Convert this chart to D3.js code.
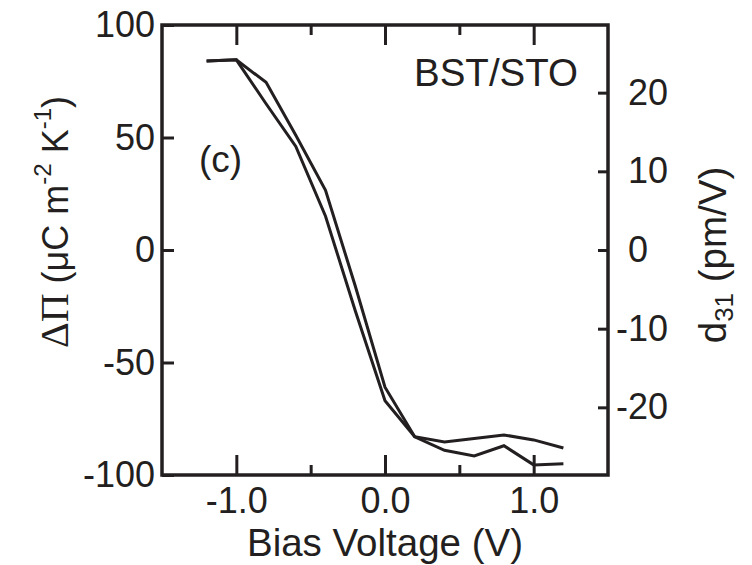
<!DOCTYPE html>
<html>
<head>
<meta charset="utf-8">
<script src="https://cdnjs.cloudflare.com/ajax/libs/d3/7.8.5/d3.min.js"></script>
<style>
  body { margin: 0; background: #fff; }
  text { font-family: "Liberation Sans", Arial, Helvetica, sans-serif; fill: #231f20; }
</style>
</head>
<body>
<div id="chart"></div>
<script>
// bias voltage (V)
var voltage = [-1.2, -1.0, -0.8, -0.6, -0.4, -0.2, 0.0, 0.2, 0.4, 0.6, 0.8, 1.0, 1.2];
// delta Pi (uC m^-2 K^-1), two sweeps
var sweepA = [84, 84.5, 65, 46, 15, -27, -67, -83, -89, -91.5, -87, -95.5, -95];
var sweepB = [84, 84.5, 74.5, 51, 26.5, -16, -61, -83, -85.3, -83.8, -82.2, -84.4, -88];

var xTicks = [-1.0, 0.0, 1.0];
var xMinor = [-0.5, 0.5];
var yTicks = [-100, -50, 0, 50, 100];
var y2Ticks = [-20, -10, 0, 10, 20];

var width = 752,
  height = 565,
  margin = {left: 162, right: 144, top: 25, bottom: 90};

var svg = d3.select("#chart").append("svg")
  .attr("width", width)
  .attr("height", height);

var x = d3.scaleLinear()
  .domain([-1.5, 1.5])
  .range([margin.left, width - margin.right]);

var y = d3.scaleLinear()
  .domain([-100, 100])
  .range([height - margin.bottom, margin.top]);

// right axis: d31 (pm/V), zero lines up with left zero
var y2 = d3.scaleLinear()
  .domain([-28.6, 28.6])
  .range([height - margin.bottom, margin.top]);

var fmt = function (f) {
  return function (d) { return d3.format(f)(d).replace("\u2212", "-"); };
};

var ink = "#231f20";
var fs = 36, fsTitle = 38.5;

function style(g) {
  g.select(".domain").remove();
  g.selectAll(".tick line").attr("stroke", ink).attr("stroke-width", 3);
  g.selectAll(".tick text").attr("font-size", fs).attr("fill", ink)
    .attr("font-family", "Liberation Sans, Arial, sans-serif");
}

var x0 = height - margin.bottom, yT = margin.top;

// bottom
svg.append("g")
  .attr("transform", "translate(0," + x0 + ")")
  .call(d3.axisBottom(x).tickValues(xTicks).tickSize(-20).tickPadding(12).tickFormat(fmt(".1f")))
  .call(style);
svg.append("g")
  .attr("transform", "translate(0," + x0 + ")")
  .call(d3.axisBottom(x).tickValues(xMinor).tickSize(-10).tickFormat(""))
  .call(style);

// top
svg.append("g")
  .attr("transform", "translate(0," + yT + ")")
  .call(d3.axisTop(x).tickValues(xTicks).tickSize(-20).tickFormat(""))
  .call(style);
svg.append("g")
  .attr("transform", "translate(0," + yT + ")")
  .call(d3.axisTop(x).tickValues(xMinor).tickSize(-10).tickFormat(""))
  .call(style);

// left
svg.append("g")
  .attr("transform", "translate(" + margin.left + ",0)")
  .call(d3.axisLeft(y).tickValues(yTicks).tickSize(-12).tickPadding(7).tickFormat(fmt("d")))
  .call(style);

// right
var gr = svg.append("g")
  .attr("transform", "translate(" + (width - margin.right) + ",0)")
  .call(d3.axisRight(y2).tickValues(y2Ticks).tickSize(-10).tickPadding(20).tickFormat(fmt("d")))
  .call(style);
gr.selectAll(".tick text").attr("x", function (d) { return d < 0 ? 8 : 20; });

// frame
svg.append("rect")
  .attr("x", margin.left)
  .attr("y", margin.top)
  .attr("width", width - margin.left - margin.right)
  .attr("height", height - margin.top - margin.bottom)
  .attr("fill", "none")
  .attr("stroke", ink)
  .attr("stroke-width", 3.5);

// curves
var line = d3.line()
  .x(function (d, i) { return x(voltage[i]); })
  .y(function (d) { return y(d); });

[sweepA, sweepB].forEach(function (s) {
  svg.append("path")
    .datum(s)
    .attr("d", line)
    .attr("fill", "none")
    .attr("stroke", ink)
    .attr("stroke-width", 3)
    .attr("stroke-linejoin", "miter");
});

// labels
svg.append("text")
  .attr("x", 414)
  .attr("y", 86)
  .attr("font-size", fsTitle)
  .text("BST/STO");

svg.append("text")
  .attr("x", 199)
  .attr("y", 172)
  .attr("font-size", 37)
  .text("(c)");

svg.append("text")
  .attr("x", x(0))
  .attr("y", 556)
  .attr("text-anchor", "middle")
  .attr("font-size", fsTitle)
  .text("Bias Voltage (V)");

// left title
var lt = svg.append("text")
  .attr("transform", "translate(68,222) rotate(-90)")
  .attr("text-anchor", "middle")
  .attr("font-size", fs);
lt.append("tspan").attr("font-family", "Liberation Serif, Times New Roman, serif").attr("font-size", 40).text("\u0394\u03a0");
lt.append("tspan").text(" (\u03bcC m");
lt.append("tspan").attr("font-size", 24).attr("dy", -17).text("-2");
lt.append("tspan").attr("dy", 17).text(" K");
lt.append("tspan").attr("font-size", 24).attr("dy", -17).text("-1");
lt.append("tspan").attr("dy", 17).text(")");

// right title
var rt = svg.append("text")
  .attr("transform", "translate(726,255) rotate(-90)")
  .attr("text-anchor", "middle")
  .attr("font-size", fsTitle);
rt.append("tspan").text("d");
rt.append("tspan").attr("font-size", 26).attr("dy", 7).text("31");
rt.append("tspan").attr("dy", -7).text(" (pm/V)");
</script>
</body>
</html>
